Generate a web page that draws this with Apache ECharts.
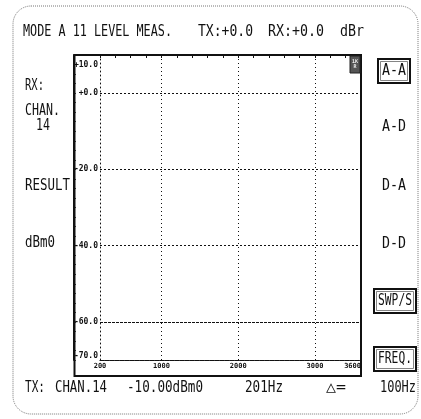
<!DOCTYPE html>
<html><head><meta charset="utf-8">
<script src="https://cdn.jsdelivr.net/npm/echarts@6/dist/echarts.min.js"></script>
<style>html,body{margin:0;padding:0;background:#fff}#c{width:421px;height:419px}</style>
</head><body><div id="c"></div>
<script>
// ---- data ----
const yMin = -70, yMax = 10;
const yTicks = [10, 0, -20, -40, -60, -70];
const yGrid = [0, -20, -40, -60];
const xMin = 200, xMax = 3600;
const xTicks = [200, 1000, 2000, 3000, 3600];
const xGrid = [1000, 2000, 3000];
const titleTexts = ['MODE A 11 LEVEL MEAS.', 'TX:+0.0', 'RX:+0.0', 'dBr'];
const leftTexts = ['RX:', 'CHAN.', '14', 'RESULT', 'dBm0'];
const softKeys = ['A-A', 'A-D', 'D-A', 'D-D', 'SWP/S', 'FREQ.'];
const bottomTexts = ['TX:', 'CHAN.14', '-10.00dBm0', '201Hz', '\u25B3=', '100Hz'];

// ---- layout (positions / styles) ----
const titlePos = [[23, 172], [198, 253], [268, 324], [340, 364]];
const leftPos = [[25, 44, 86], [25, 60, 111], [36, 50, 126], [25, 70, 186], [25, 55, 243]];
const keyPos = [[382, 406, 71, true], [382, 406, 127, false], [382, 406, 186, false], [382, 406, 244, false], [378, 412, 301, true], [378, 412, 359, true]];
const bottomPos = [[25, 45], [55, 107], [127, 203], [245, 283], [326, 346], [380, 416]];

const MONO = '"DejaVu Sans Mono", "Liberation Mono", monospace';
const ctx = document.createElement('canvas').getContext('2d');
function fit(s, x1, x2, yc, size, sy) {
  const font = size + 'px ' + MONO;
  ctx.font = font;
  const w = ctx.measureText(s).width || 1;
  return { type: 'text', x: x1, y: yc, scaleX: (x2 - x1) / w, scaleY: sy, z: 10,
    style: { text: s, font: font, fill: '#111', textAlign: 'left', textVerticalAlign: 'middle' } };
}
const graphics = [];
graphics.push({ type: 'rect', shape: { x: 13, y: 6, width: 405, height: 408, r: 18 }, style: { fill: 'none', stroke: '#777', lineWidth: 1, lineDash: [1, 1] }, z: 1 });
graphics.push({ type: 'rect', shape: { x: 74.5, y: 55, width: 286.5, height: 321 }, style: { fill: 'none', stroke: '#111', lineWidth: 2 }, z: 5 });
graphics.push({ type: 'rect', shape: { x: 350, y: 56, width: 10, height: 17 }, style: { fill: '#555', stroke: '#222', lineWidth: 1 }, z: 6 });
graphics.push({ type: 'text', x: 355, y: 64, z: 7, style: { text: '1K\nR', font: 'bold 5px ' + MONO, fill: '#eee', textAlign: 'center', textVerticalAlign: 'middle' } });
titleTexts.forEach((s, i) => graphics.push(fit(s, titlePos[i][0], titlePos[i][1], 32, 12.5, 1.25)));
leftTexts.forEach((s, i) => graphics.push(fit(s, leftPos[i][0], leftPos[i][1], leftPos[i][2], 12.5, 1.3)));
softKeys.forEach((s, i) => {
  const p = keyPos[i];
  graphics.push(fit(s, p[0], p[1], p[2], 12.5, 1.3));
  if (p[3]) {
    const x = p[0] - 4, w = p[1] - p[0] + 8;
    graphics.push({ type: 'rect', shape: { x: x, y: p[2] - 12, width: w, height: 24 }, style: { fill: 'none', stroke: '#111', lineWidth: 2 }, z: 6 });
    graphics.push({ type: 'rect', shape: { x: x + 2.5, y: p[2] - 9.5, width: w - 5, height: 19 }, style: { fill: 'none', stroke: '#666', lineWidth: 0.8 }, z: 6 });
  }
});
bottomTexts.forEach((s, i) => graphics.push(fit(s, bottomPos[i][0], bottomPos[i][1], 388, 12.5, 1.3)));

const dotV = { color: '#111', width: 1, type: [1, 3] };
const dotH = { color: '#111', width: 1, type: [2, 2] };
const chart = echarts.init(document.getElementById('c'), null, { renderer: 'canvas' });
chart.setOption({
  animation: false,
  backgroundColor: '#fff',
  grid: { left: 100, right: 60, top: 55, bottom: 59 },
  xAxis: [
    { type: 'value', min: xMin, max: xMax, position: 'bottom',
      axisLine: { show: true, onZero: false, lineStyle: { color: '#111', width: 1.2, type: [4, 1] } },
      axisTick: { show: false }, splitLine: { show: false },
      axisLabel: { customValues: xTicks, margin: 3, fontSize: 7, fontWeight: 'bold', fontFamily: MONO, color: '#111',
        alignMaxLabel: 'right', formatter: v => String(v) } },
    { type: 'value', min: xMin, max: xMax, interval: 200, position: 'top',
      axisLine: { show: true, onZero: false, lineStyle: { color: '#111', width: 2 } },
      axisTick: { show: true, inside: true, length: 3, lineStyle: { color: '#111' } },
      axisLabel: { show: false }, splitLine: { show: false } }
  ],
  yAxis: [
    { type: 'value', min: yMin, max: yMax,
      axisLine: { show: true, onZero: false, lineStyle: dotV },
      axisTick: { show: false }, splitLine: { show: false },
      axisLabel: { customValues: yTicks, margin: 2, fontSize: 8, fontWeight: 'bold', fontFamily: MONO, color: '#111',
        verticalAlignMaxLabel: 'bottom', verticalAlignMinLabel: 'top',
        formatter: v => v === yMax ? '{top|+' + v.toFixed(1) + '}' : (v >= 0 ? '+' : '') + v.toFixed(1),
        rich: { top: { padding: [6, 0, 0, 0], fontSize: 8, fontWeight: 'bold', fontFamily: MONO, color: '#111' } } } },
    { type: 'value', min: yMin, max: yMax, interval: 2.5, position: 'left', offset: 26,
      axisLine: { show: true, onZero: false, lineStyle: { color: '#111', width: 2 } },
      axisTick: { show: true, inside: true, length: 2, lineStyle: { color: '#444' } },
      axisLabel: { show: false }, splitLine: { show: false } }
  ],
  series: [{
    type: 'line', data: [], xAxisIndex: 0, yAxisIndex: 0,
    markLine: { silent: true, symbol: 'none', label: { show: false }, lineStyle: dotV,
      data: yGrid.map(v => ({ yAxis: v, lineStyle: v === -60 ? { color: '#111', width: 1, type: [3, 1] } : dotH }))
        .concat(xGrid.map(v => ({ xAxis: v, lineStyle: dotV }))) }
  }],
  graphic: graphics
});
</script></body></html>
